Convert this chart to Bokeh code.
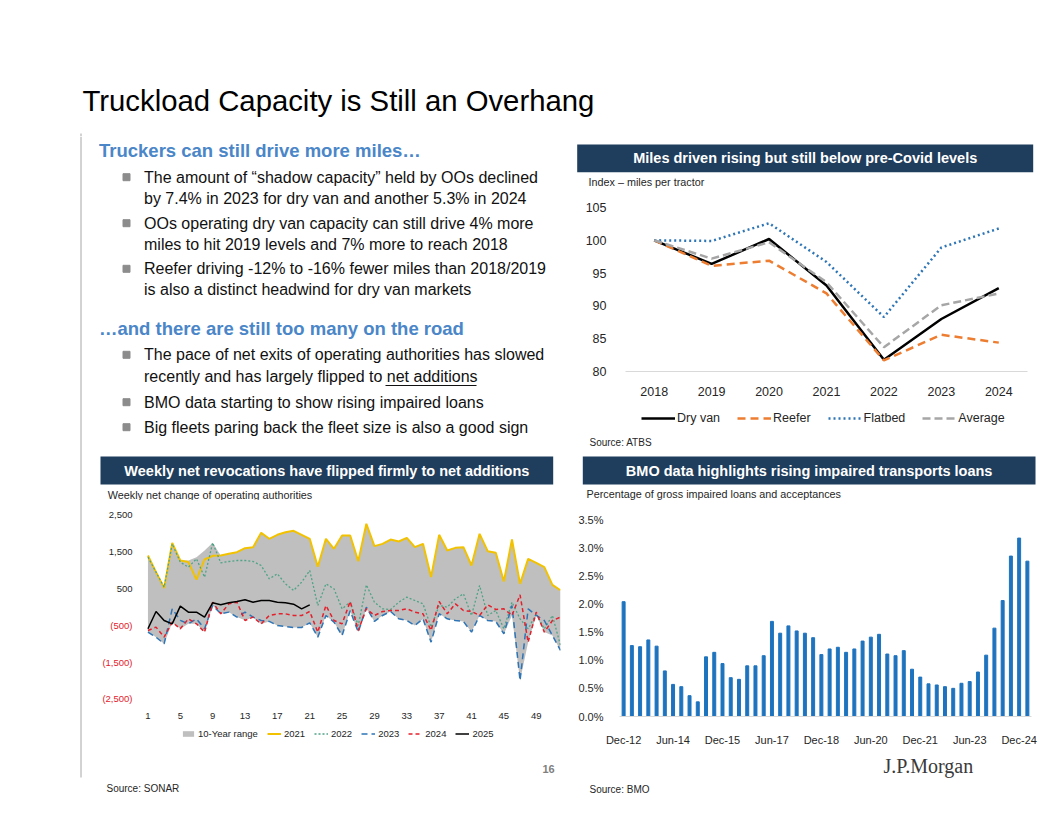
from bokeh.plotting import figure
from bokeh.layouts import column, row
from bokeh.models import (Range1d, FixedTicker, Legend, LegendItem, LabelSet,
                          ColumnDataSource, PrintfTickFormatter)
from bokeh.core.properties import value
from bokeh.embed import file_html
from bokeh.resources import INLINE

# ---------------- data ----------------
years = [2018, 2019, 2020, 2021, 2022, 2023, 2024]
dry_van = [100, 96.4, 100.2, 93.1, 81.8, 88.0, 92.7]
reefer = [100, 96.1, 96.9, 91.9, 81.7, 85.6, 84.4]
flatbed = [100, 99.9, 102.6, 96.7, 88.3, 98.9, 101.8]
average = [100, 97.2, 99.7, 93.6, 83.7, 90.1, 91.9]
miles_ticks = [80, 85, 90, 95, 100, 105]

weeks = list(range(1, 53))
range_high = [1409, 955, 518, 1755, 1273, 1273, 1364, 1545, 1755, 1409, 1455, 1500, 1609, 1636,
              2027, 1864, 1973, 2045, 2082, 1973, 1864, 1100, 1864, 1591, 1955, 1955, 1250, 2273,
              1664, 1727, 1845, 1791, 1891, 1636, 1727, 820, 1973, 1545, 1618, 1636, 1136, 2000,
              1527, 1482, 700, 1845, 636, 1318, 1209, 1091, 609, 460]
range_low = [-680, -820, -1000, -420, -590, -455, -455, -680, 45, -180, -140, -270, -360, -280,
             -460, -390, -500, -530, -555, -555, -430, -820, -230, -410, -775, -100, -680, -45,
             -390, -230, -120, -320, -365, -500, -320, -955, -180, -320, -365, -390, -680, -230,
             -365, -390, -730, -230, -2000, -955, -230, -680, -775, -1180]
y2021 = [1409, 955, 518, 1755, 1273, 1230, 750, 1300, 1400, 1409, 1455, 1500, 1609, 1636,
         2027, 1864, 1973, 2045, 2082, 1973, 1864, 1100, 1864, 1591, 1955, 1955, 1250, 2273,
         1664, 1727, 1845, 1791, 1891, 1636, 1727, 820, 1973, 1545, 1618, 1636, 1136, 2000,
         1527, 1482, 700, 1845, 636, 1318, 1209, 1091, 609, 460]
y2022 = [1364, 955, 545, 1727, 1227, 1091, 1318, 818, 1755, 1209, 1245, 1273, 1273, 1245,
         1136, 773, 909, 636, 455, 682, 1000, 45, 636, 500, -45, 136, -500, 609, 136, -45,
         -64, 136, 273, 182, 91, -545, 45, 0, 227, 364, -227, 591, -227, -91, -591, 136,
         -318, -591, -182, -591, -227, -1045]
y2023 = [-680, -820, -1000, -45, -360, -455, -320, -590, 45, -180, -136, -273, -136, -273,
         -364, -390, -500, -527, -555, -555, -427, -818, -227, -409, -773, -100, -682, 0,
         -390, -227, -118, -318, -364, -500, -318, -955, -180, -318, -364, -390, -682, -227,
         -364, -390, -727, 45, -2000, -45, -227, -364, -773, -1182]
y2024 = [-636, -545, -818, -409, -591, -318, -455, -682, 136, -182, 91, 136, -364, -273,
         -455, -227, -182, -182, -227, -227, -118, -682, 45, -364, -455, 155, -636, -45,
         -227, -118, -91, -91, -45, -136, -182, -636, 155, -182, 91, -91, -118, -227, 64,
         -64, -45, -227, 336, -955, -136, -682, -364, -273]
weeks_2025 = list(range(1, 22))
y2025 = [-590, -118, -364, -455, 27, -136, -136, -273, 118, 64, 118, 155, 200, 136, 182,
         182, 136, 118, 82, -45, 64]
week_ticks = [1, 5, 9, 13, 17, 21, 25, 29, 33, 37, 41, 45, 49]
wk_tick_vals = [2500, 1500, 500, -500, -1500, -2500]
wk_tick_labels = ["2,500", "1,500", "500", "(500)", "(1,500)", "(2,500)"]
wk_tick_colors = ["#262626", "#262626", "#262626", "#E3202B", "#E3202B", "#E3202B"]

quarter_idx = list(range(50))
impaired = [2.04, 1.26, 1.24, 1.36, 1.25, 0.81, 0.57, 0.53, 0.37, 0.26, 1.06, 1.14, 0.94,
            0.69, 0.66, 0.90, 0.90, 1.08, 1.69, 1.48, 1.61, 1.52, 1.48, 1.40, 1.10, 1.20,
            1.23, 1.14, 1.20, 1.34, 1.41, 1.46, 1.11, 1.08, 1.17, 0.84, 0.70, 0.58, 0.56,
            0.53, 0.50, 0.59, 0.62, 0.79, 1.09, 1.57, 2.06, 2.85, 3.17, 2.76]
q_tick_pos = [0, 6, 12, 18, 24, 30, 36, 42, 48]
q_tick_labels = ["Dec-12", "Jun-14", "Dec-15", "Jun-17", "Dec-18", "Jun-20", "Dec-21",
                 "Jun-23", "Dec-24"]
pct_ticks = [0, 0.5, 1.0, 1.5, 2.0, 2.5, 3.0, 3.5]

# ---------------- styles ----------------
SANS = "Liberation Sans"
SERIF = "Liberation Serif"
NAVY = "#1F3D5C"
HEAD_BLUE = "#4A86C8"
TXT = "#111111"
AX = "#262626"

MILES_STYLE = {"Dry van": dict(line_color="black", line_width=2.5),
               "Reefer": dict(line_color="#ED7D31", line_width=2.5, line_dash="8 5"),
               "Flatbed": dict(line_color="#2E75B6", line_width=2.5, line_dash="2 3"),
               "Average": dict(line_color="#A6A6A6", line_width=2.5, line_dash="8 4")}
WEEK_STYLE = {"2021": dict(line_color="#F2C200", line_width=2),
              "2022": dict(line_color="#4FA386", line_width=1.3, line_dash="2 2"),
              "2023": dict(line_color="#2E75B6", line_width=1.5, line_dash="6 4"),
              "2024": dict(line_color="#E3202B", line_width=1.5, line_dash="4 3"),
              "2025": dict(line_color="black", line_width=1.5)}
RANGE_COLOR = "#BFBFBF"
OFF = [-5000, -4999]  # legend proxies sit outside every visible range


def deco(x0, y0, w, h):
    p = figure(width=w, height=h, x_range=Range1d(x0, x0 + w), y_range=Range1d(y0 + h, y0),
               output_backend="svg", toolbar_location=None, min_border=0, title=None,
               x_axis_location=None, y_axis_location=None, frame_align=False)
    p.grid.visible = False
    p.outline_line_color = None
    return p


def txt(p, x, y, s, size, color=TXT, font=SANS, style="normal", align="left"):
    p.text(x=[x], y=[y], text=[s], text_font=value(font), text_font_size=f"{size}px",
           text_color=color, text_font_style=style, text_align=align, text_baseline="middle")


def header(x0, y0, w, h, bx0, bx1, by0, by1, title, sub, sx, sy):
    p = deco(x0, y0, w, h)
    p.quad(left=[bx0], right=[bx1], top=[by0], bottom=[by1], color=NAVY, line_color=None)
    txt(p, (bx0 + bx1) / 2, (by0 + by1) / 2, title, 14.5, color="white", style="bold",
        align="center")
    txt(p, sx, sy, sub, 10.8, color=AX)
    return p


def style_axes(p, size):
    p.grid.visible = False
    p.outline_line_color = None
    for ax in p.axis:
        ax.major_tick_line_color = None
        ax.minor_tick_line_color = None
        ax.major_label_text_font = SANS
        ax.major_label_text_color = AX
        ax.major_label_text_font_size = size


def legend_box(p, items, loc, glyph_w, glyph_h, standoff, spacing, size, lh):
    p.add_layout(Legend(items=items, location=loc, orientation="horizontal",
                        glyph_width=glyph_w, glyph_height=glyph_h, label_standoff=standoff,
                        spacing=spacing, padding=0, margin=0, border_line_color=None,
                        background_fill_alpha=0, label_text_font=SANS,
                        label_text_font_size=size, label_text_color=AX, label_height=lh))


# ---------------- top title ----------------
top = deco(0, 0, 1040, 136)
txt(top, 82, 100, "Truckload Capacity is Still an Overhang", 29.3, color="#000000")
top.segment(x0=[80.5], y0=[133], x1=[80.5], y1=[136], color="#A6A6A6", line_width=1)

gutter = deco(0, 136, 96, 664)
gutter.segment(x0=[80.5], y0=[136], x1=[80.5], y1=[777], color="#A6A6A6", line_width=1)

# ---------------- left text ----------------
tf = deco(96, 136, 474, 314)
txt(tf, 98.5, 150, "Truckers can still drive more miles…", 18.5, color=HEAD_BLUE,
    style="bold")
lines1 = [(176.7, "The amount of “shadow capacity” held by OOs declined", True),
          (197.7, "by 7.4% in 2023 for dry van and another 5.3% in 2024", False),
          (222.7, "OOs operating dry van capacity can still drive 4% more", True),
          (243.5, "miles to hit 2019 levels and 7% more to reach 2018", False),
          (268.3, "Reefer driving -12% to -16% fewer miles than 2018/2019", True),
          (289.3, "is also a distinct headwind for dry van markets", False)]
txt(tf, 98.5, 328.3, "…and there are still too many on the road", 18.5, color=HEAD_BLUE,
    style="bold")
lines2 = [(354.3, "The pace of net exits of operating authorities has slowed", True),
          (376.3, "recently and has largely flipped to net additions", False),
          (401.7, "BMO data starting to show rising impaired loans", True),
          (426.7, "Big fleets paring back the fleet size is also a good sign", True)]
for y, s, b in lines1 + lines2:
    txt(tf, 143.5, y, s, 16)
    if b:
        tf.scatter(x=[126], y=[y], marker="square", size=7, color="#8C8C8C")
tf.segment(x0=[385], y0=[385], x1=[476], y1=[385], color=TXT, line_width=1)

# ---------------- top right: miles ----------------
trh = header(570, 136, 470, 52, 576.7, 1032.7, 144, 171.7,
             "Miles driven rising but still below pre-Covid levels",
             "Index – miles per tractor", 588, 181.7)
tr = figure(width=470, height=210, x_range=Range1d(2017.5, 2024.5), y_range=Range1d(80, 105),
            output_backend="svg", toolbar_location=None, title=None, frame_align=False,
            min_border_left=55, min_border_right=13, min_border_top=19, min_border_bottom=26)
style_axes(tr, "12.5px")
tr.yaxis.ticker = FixedTicker(ticks=miles_ticks)
tr.xaxis.ticker = FixedTicker(ticks=years)
tr.yaxis.axis_line_color = None
tr.xaxis.axis_line_color = "#D9D9D9"
tr.yaxis.major_label_standoff = 13
tr.xaxis.major_label_standoff = 9
for name, series in zip(MILES_STYLE, [dry_van, reefer, flatbed, average]):
    tr.line(years, series, **MILES_STYLE[name])

trf = deco(570, 398, 470, 52)
leg_items = [LegendItem(label=name, renderers=[trf.line(x=OFF, y=OFF, **MILES_STYLE[name])])
             for name in MILES_STYLE]
legend_box(trf, leg_items, (71, 24), 34, 16, 2, 17, "12.5px", 16)
txt(trf, 589, 441.7, "Source: ATBS", 10, color=AX)

# ---------------- bottom left: weekly ----------------
blh = header(96, 450, 474, 50, 100, 552.7, 456, 484,
             "Weekly net revocations have flipped firmly to net additions",
             "Weekly net change of operating authorities", 107.3, 494)
bl = figure(width=474, height=222, x_range=Range1d(-5.36, 52),
            y_range=Range1d(-2655.5, 2718.2),
            output_backend="svg", toolbar_location=None, title=None, frame_align=False,
            y_axis_location=None,
            min_border_left=0, min_border_right=10, min_border_top=7, min_border_bottom=18)
style_axes(bl, "9.5px")
bl.xaxis.ticker = FixedTicker(ticks=week_ticks)
bl.xaxis.axis_line_color = None
bl.xaxis.major_label_standoff = 2
bl.varea(x=weeks, y1=range_low, y2=range_high, fill_color=RANGE_COLOR)
for name, series in zip(["2021", "2022", "2023", "2024"], [y2021, y2022, y2023, y2024]):
    bl.line(weeks, series, **WEEK_STYLE[name])
bl.line(weeks_2025, y2025, **WEEK_STYLE["2025"])
tick_src = ColumnDataSource(dict(x=[36] * 6, y=wk_tick_vals, t=wk_tick_labels,
                                 c=wk_tick_colors))
bl.add_layout(LabelSet(x="x", y="y", text="t", source=tick_src, x_units="screen",
                       text_font=value(SANS), text_font_size="9.5px",
                       text_color="c", text_align="right", text_baseline="middle"))

blf = deco(96, 722, 474, 78)
wk_items = [LegendItem(label="10-Year range",
                       renderers=[blf.varea(x=OFF, y1=[OFF[0]] * 2, y2=[OFF[1]] * 2,
                                            fill_color=RANGE_COLOR)])]
wk_items += [LegendItem(label=name, renderers=[blf.line(x=OFF, y=OFF, **WEEK_STYLE[name])])
             for name in WEEK_STYLE]
legend_box(blf, wk_items, (85, 61), 14, 7, 3, 9, "9.5px", 12)
txt(blf, 548, 768, "16", 11, color="#7F7F7F", style="bold", align="center")
txt(blf, 106, 788, "Source: SONAR", 10, color=AX)

# ---------------- bottom right: BMO ----------------
brh = header(570, 450, 470, 50, 582.3, 1035, 456, 484,
             "BMO data highlights rising impaired transports loans",
             "Percentage of gross impaired loans and acceptances", 586, 493.3)
br = figure(width=470, height=248, x_range=Range1d(-0.5, 49.5), y_range=Range1d(0, 3.5),
            output_backend="svg", toolbar_location=None, title=None, frame_align=False,
            min_border_left=49, min_border_right=9, min_border_top=19, min_border_bottom=25)
style_axes(br, "11px")
br.vbar(x=quarter_idx, top=impaired, width=0.36, color="#1E73BE")
br.yaxis.ticker = FixedTicker(ticks=pct_ticks)
br.yaxis.formatter = PrintfTickFormatter(format="%.1f%%")
br.xaxis.ticker = FixedTicker(ticks=q_tick_pos)
br.xaxis.major_label_overrides = dict(zip(q_tick_pos, q_tick_labels))
br.yaxis.axis_line_color = None
br.xaxis.axis_line_color = "#D9D9D9"
br.yaxis.major_label_standoff = 10
br.xaxis.major_label_standoff = 11

brf = deco(570, 748, 470, 52)
txt(brf, 883, 765, "J.P.Morgan", 20, color="#3A3A3A", font=SERIF)
txt(brf, 589, 788.5, "Source: BMO", 10, color=AX)

layout = column(top, row(gutter, column(tf, blh, bl, blf),
                         column(trh, tr, trf, brh, br, brf)))
open("out.html", "w").write(file_html(layout, INLINE))
